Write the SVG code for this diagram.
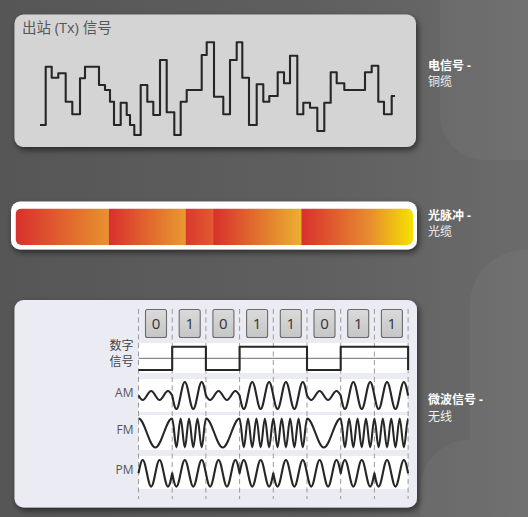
<svg xmlns="http://www.w3.org/2000/svg" width="528" height="517" viewBox="0 0 528 517">
<defs>
<linearGradient id="bg" x1="0" y1="0" x2="1" y2="0">
<stop offset="0" stop-color="#565656"/><stop offset="0.6" stop-color="#5f5f5f"/><stop offset="1" stop-color="#6b6b6b"/>
</linearGradient>
<linearGradient id="g1" x1="0" y1="0" x2="1" y2="0"><stop offset="0" stop-color="#d8302d"/><stop offset="1" stop-color="#e8922f"/></linearGradient>
<linearGradient id="g2" x1="0" y1="0" x2="1" y2="0"><stop offset="0" stop-color="#d8302d"/><stop offset="1" stop-color="#e99a30"/></linearGradient>
<linearGradient id="g3" x1="0" y1="0" x2="1" y2="0"><stop offset="0" stop-color="#d9382e"/><stop offset="1" stop-color="#e25a30"/></linearGradient>
<linearGradient id="g4" x1="0" y1="0" x2="1" y2="0"><stop offset="0" stop-color="#d8302d"/><stop offset="1" stop-color="#ebb030"/></linearGradient>
<linearGradient id="g5" x1="0" y1="0" x2="1" y2="0"><stop offset="0" stop-color="#d8302d"/><stop offset="0.6" stop-color="#e78a30"/><stop offset="1" stop-color="#f5e200"/></linearGradient>
<linearGradient id="bitg" x1="0" y1="0" x2="0" y2="1"><stop offset="0" stop-color="#dadada"/><stop offset="1" stop-color="#c6c6c6"/></linearGradient>
<filter id="sh" x="-10%" y="-10%" width="120%" height="130%"><feDropShadow dx="2" dy="3" stdDeviation="3" flood-color="#000" flood-opacity="0.55"/></filter>
<clipPath id="lc"><rect x="15.5" y="208.5" width="397.5" height="36.5" rx="6"/></clipPath>
<style>
.lbl1{font-family:"Open Sans","Noto Sans CJK SC",sans-serif;font-size:12px;font-weight:bold;fill:#fff}
.lbl2{font-family:"Open Sans","Noto Sans CJK SC",sans-serif;font-size:12px;fill:#f0f0f0}
.gl{font-family:"Open Sans","Noto Sans CJK SC",sans-serif;font-size:12px;fill:#555;text-anchor:end}
.cj{font-family:"Noto Sans CJK SC",sans-serif;font-size:12px;fill:#444;text-anchor:end}
.bit{fill:url(#bitg);stroke:#6a6a6a;stroke-width:1.1}
.dg{font-family:"Open Sans",sans-serif;font-size:15px;fill:#333;text-anchor:middle}
.wave{fill:none;stroke:#262626;stroke-width:2.1;stroke-linejoin:round}
.dash{stroke:#9a9a9a;stroke-width:1;stroke-dasharray:5 3.5}
.band{fill:#fff}
</style>
</defs>
<rect width="528" height="517" fill="url(#bg)"/>
<g fill="#fff" opacity="0.035">
<rect x="440" y="-40" width="130" height="200" rx="45"/>
<rect x="470" y="250" width="110" height="300" rx="55"/>
<rect x="420" y="440" width="140" height="120" rx="50"/>
</g>

<g id="copper">
<rect x="14.5" y="14.5" width="401.5" height="132.5" rx="9" fill="#d4d4d4" filter="url(#sh)"/>
<text x="22" y="32.5" font-family="Open Sans, Noto Sans CJK SC, sans-serif" font-size="14.5" fill="#575757">出站 (Tx) 信号</text>
<path class="wave" stroke-width="2.4" d="M40,125 H45.7 V66.7 H51.7 V77.7 H58.3 V73.3 H65.7 V101.7 H72.3 V114.3 H80 V78.3 H85 V66.7 H99 V85 H105 V90 H110 V101.7 H114 V125 H120.7 V102.7 H126.7 V115 H130 V125 H134.3 V135 H140.7 V85 H147.3 V101.7 H153.3 V115 H160 V60 H166.7 V112.3 H174.3 V135 H180.7 V101.7 H186.7 V90 H201.7 V55 H206.7 V42.3 H214 V96.7 H223.3 V114.3 H230 V60 H236.7 V42.3 H242.3 V77.7 H249 V125 H256.7 V84.3 H263.3 V101.7 H269.3 V96 H277.7 V72.3 H284 V83.3 H290 V55.7 H297.3 V114.3 H303.3 V102.7 H310 V107.7 H317.3 V131 H324.3 V102.7 H330.7 V72.3 H336.7 V83.3 H344.3 V90 H365 V72.3 H371.7 V65.7 H378.3 V101.7 H384 V114.3 H391.7 V96 H395"/>
</g>
<g id="copper-label">
<text class="lbl1" x="428" y="69.5">电信号 -</text>
<text class="lbl2" x="428" y="86">铜缆</text>
</g>

<g id="fiber">
<rect x="11" y="201.5" width="406" height="48" rx="9" fill="#fff" filter="url(#sh)"/>
<g clip-path="url(#lc)">
<rect x="15.5" y="208.5" width="93.4" height="36.5" fill="url(#g1)"/>
<rect x="108.8" y="208.5" width="76.8" height="36.5" fill="url(#g2)"/>
<rect x="185.5" y="208.5" width="27.7" height="36.5" fill="url(#g3)"/>
<rect x="213.1" y="208.5" width="88.3" height="36.5" fill="url(#g4)"/>
<rect x="301.3" y="208.5" width="111.7" height="36.5" fill="url(#g5)"/>
</g>
</g>
<g id="fiber-label">
<text class="lbl1" x="428" y="219.5">光脉冲 -</text>
<text class="lbl2" x="428" y="236">光缆</text>
</g>

<g id="wireless">
<rect x="14.5" y="300" width="402.5" height="207.5" rx="9" fill="#ebebf3" filter="url(#sh)"/>
<rect class="band" x="138.5" y="343" width="269.6" height="30"/>
<rect class="band" x="138.5" y="379" width="269.6" height="33"/>
<rect class="band" x="138.5" y="415" width="269.6" height="35"/>
<rect class="band" x="138.5" y="456" width="269.6" height="33"/>
<g>
<line class="dash" x1="138.5" y1="309" x2="138.5" y2="499"/>
<line class="dash" x1="172.2" y1="309" x2="172.2" y2="499"/>
<line class="dash" x1="205.9" y1="309" x2="205.9" y2="499"/>
<line class="dash" x1="239.6" y1="309" x2="239.6" y2="499"/>
<line class="dash" x1="273.3" y1="309" x2="273.3" y2="499"/>
<line class="dash" x1="307" y1="309" x2="307" y2="499"/>
<line class="dash" x1="340.7" y1="309" x2="340.7" y2="499"/>
<line class="dash" x1="374.4" y1="309" x2="374.4" y2="499"/>
<line class="dash" x1="408.1" y1="309" x2="408.1" y2="499"/>
</g>
<g>
<rect class="bit" x="145.5" y="309.5" width="21" height="28" rx="2"/>
<rect class="bit" x="179.2" y="309.5" width="21" height="28" rx="2"/>
<rect class="bit" x="212.9" y="309.5" width="21" height="28" rx="2"/>
<rect class="bit" x="246.6" y="309.5" width="21" height="28" rx="2"/>
<rect class="bit" x="280.3" y="309.5" width="21" height="28" rx="2"/>
<rect class="bit" x="314" y="309.5" width="21" height="28" rx="2"/>
<rect class="bit" x="347.7" y="309.5" width="21" height="28" rx="2"/>
<rect class="bit" x="381.4" y="309.5" width="21" height="28" rx="2"/>
<text class="dg" x="156" y="328.5">0</text>
<text class="dg" x="189.7" y="328.5">1</text>
<text class="dg" x="223.4" y="328.5">0</text>
<text class="dg" x="257.1" y="328.5">1</text>
<text class="dg" x="290.8" y="328.5">1</text>
<text class="dg" x="324.5" y="328.5">0</text>
<text class="dg" x="358.2" y="328.5">1</text>
<text class="dg" x="391.9" y="328.5">1</text>
</g>
<text class="cj" x="133.5" y="349.5">数字</text>
<text class="cj" x="133.5" y="366">信号</text>
<text class="gl" x="133.5" y="397">AM</text>
<text class="gl" x="133.5" y="434">FM</text>
<text class="gl" x="133.5" y="473.5">PM</text>
<line x1="138.5" y1="358.3" x2="408.1" y2="358.3" stroke="#8a8a98" stroke-width="1.2"/>
<path class="wave" d="M138.5,370 H172.2 V346.7 H205.9 V370 H239.6 V346.7 H307 V370 H340.7 V346.7 H408.1 V370"/>
<path class="wave" d="M138.5,395.5
c1.408,2.363 2.69,4.5 4.2125,4.5 c1.523,0 2.804,-2.137 4.2125,-4.5 c1.408,-2.363 2.69,-4.5 4.2125,-4.5 c1.523,0 2.804,2.137 4.2125,4.5 c1.408,2.363 2.69,4.5 4.2125,4.5 c1.523,0 2.804,-2.137 4.2125,-4.5 c1.408,-2.363 2.69,-4.5 4.2125,-4.5 c1.523,0 2.804,2.137 4.2125,4.5
c1.408,7.089 2.69,13.5 4.2125,13.5 c1.523,0 2.804,-6.411 4.2125,-13.5 c1.408,-7.089 2.69,-13.5 4.2125,-13.5 c1.523,0 2.804,6.411 4.2125,13.5 c1.408,7.089 2.69,13.5 4.2125,13.5 c1.523,0 2.804,-6.411 4.2125,-13.5 c1.408,-7.089 2.69,-13.5 4.2125,-13.5 c1.523,0 2.804,6.411 4.2125,13.5
c1.408,2.363 2.69,4.5 4.2125,4.5 c1.523,0 2.804,-2.137 4.2125,-4.5 c1.408,-2.363 2.69,-4.5 4.2125,-4.5 c1.523,0 2.804,2.137 4.2125,4.5 c1.408,2.363 2.69,4.5 4.2125,4.5 c1.523,0 2.804,-2.137 4.2125,-4.5 c1.408,-2.363 2.69,-4.5 4.2125,-4.5 c1.523,0 2.804,2.137 4.2125,4.5
c1.408,7.089 2.69,13.5 4.2125,13.5 c1.523,0 2.804,-6.411 4.2125,-13.5 c1.408,-7.089 2.69,-13.5 4.2125,-13.5 c1.523,0 2.804,6.411 4.2125,13.5 c1.408,7.089 2.69,13.5 4.2125,13.5 c1.523,0 2.804,-6.411 4.2125,-13.5 c1.408,-7.089 2.69,-13.5 4.2125,-13.5 c1.523,0 2.804,6.411 4.2125,13.5
c1.408,7.089 2.69,13.5 4.2125,13.5 c1.523,0 2.804,-6.411 4.2125,-13.5 c1.408,-7.089 2.69,-13.5 4.2125,-13.5 c1.523,0 2.804,6.411 4.2125,13.5 c1.408,7.089 2.69,13.5 4.2125,13.5 c1.523,0 2.804,-6.411 4.2125,-13.5 c1.408,-7.089 2.69,-13.5 4.2125,-13.5 c1.523,0 2.804,6.411 4.2125,13.5
c1.408,2.363 2.69,4.5 4.2125,4.5 c1.523,0 2.804,-2.137 4.2125,-4.5 c1.408,-2.363 2.69,-4.5 4.2125,-4.5 c1.523,0 2.804,2.137 4.2125,4.5 c1.408,2.363 2.69,4.5 4.2125,4.5 c1.523,0 2.804,-2.137 4.2125,-4.5 c1.408,-2.363 2.69,-4.5 4.2125,-4.5 c1.523,0 2.804,2.137 4.2125,4.5
c1.408,7.089 2.69,13.5 4.2125,13.5 c1.523,0 2.804,-6.411 4.2125,-13.5 c1.408,-7.089 2.69,-13.5 4.2125,-13.5 c1.523,0 2.804,6.411 4.2125,13.5 c1.408,7.089 2.69,13.5 4.2125,13.5 c1.523,0 2.804,-6.411 4.2125,-13.5 c1.408,-7.089 2.69,-13.5 4.2125,-13.5 c1.523,0 2.804,6.411 4.2125,13.5
c1.408,7.089 2.69,13.5 4.2125,13.5 c1.523,0 2.804,-6.411 4.2125,-13.5 c1.408,-7.089 2.69,-13.5 4.2125,-13.5 c1.523,0 2.804,6.411 4.2125,13.5 c1.408,7.089 2.69,13.5 4.2125,13.5 c1.523,0 2.804,-6.411 4.2125,-13.5 c1.408,-7.089 2.69,-13.5 4.2125,-13.5 c1.523,0 2.804,6.411 4.2125,13.5"/>
<path class="wave" d="M138.5,418.5
c3.046,0 5.609,6.886 8.425,14.5 c2.816,7.614 5.379,14.5 8.425,14.5 c3.046,0 5.609,-6.886 8.425,-14.5 c2.816,-7.614 5.379,-14.5 8.425,-14.5
c0.761,0 1.402,6.886 2.10625,14.5 c0.704,7.614 1.345,14.5 2.10625,14.5 c0.761,0 1.402,-6.886 2.10625,-14.5 c0.704,-7.614 1.345,-14.5 2.10625,-14.5 c0.761,0 1.402,6.886 2.10625,14.5 c0.704,7.614 1.345,14.5 2.10625,14.5 c0.761,0 1.402,-6.886 2.10625,-14.5 c0.704,-7.614 1.345,-14.5 2.10625,-14.5 c0.761,0 1.402,6.886 2.10625,14.5 c0.704,7.614 1.345,14.5 2.10625,14.5 c0.761,0 1.402,-6.886 2.10625,-14.5 c0.704,-7.614 1.345,-14.5 2.10625,-14.5 c0.761,0 1.402,6.886 2.10625,14.5 c0.704,7.614 1.345,14.5 2.10625,14.5 c0.761,0 1.402,-6.886 2.10625,-14.5 c0.704,-7.614 1.345,-14.5 2.10625,-14.5
c3.046,0 5.609,6.886 8.425,14.5 c2.816,7.614 5.379,14.5 8.425,14.5 c3.046,0 5.609,-6.886 8.425,-14.5 c2.816,-7.614 5.379,-14.5 8.425,-14.5
c0.761,0 1.402,6.886 2.10625,14.5 c0.704,7.614 1.345,14.5 2.10625,14.5 c0.761,0 1.402,-6.886 2.10625,-14.5 c0.704,-7.614 1.345,-14.5 2.10625,-14.5 c0.761,0 1.402,6.886 2.10625,14.5 c0.704,7.614 1.345,14.5 2.10625,14.5 c0.761,0 1.402,-6.886 2.10625,-14.5 c0.704,-7.614 1.345,-14.5 2.10625,-14.5 c0.761,0 1.402,6.886 2.10625,14.5 c0.704,7.614 1.345,14.5 2.10625,14.5 c0.761,0 1.402,-6.886 2.10625,-14.5 c0.704,-7.614 1.345,-14.5 2.10625,-14.5 c0.761,0 1.402,6.886 2.10625,14.5 c0.704,7.614 1.345,14.5 2.10625,14.5 c0.761,0 1.402,-6.886 2.10625,-14.5 c0.704,-7.614 1.345,-14.5 2.10625,-14.5
c0.761,0 1.402,6.886 2.10625,14.5 c0.704,7.614 1.345,14.5 2.10625,14.5 c0.761,0 1.402,-6.886 2.10625,-14.5 c0.704,-7.614 1.345,-14.5 2.10625,-14.5 c0.761,0 1.402,6.886 2.10625,14.5 c0.704,7.614 1.345,14.5 2.10625,14.5 c0.761,0 1.402,-6.886 2.10625,-14.5 c0.704,-7.614 1.345,-14.5 2.10625,-14.5 c0.761,0 1.402,6.886 2.10625,14.5 c0.704,7.614 1.345,14.5 2.10625,14.5 c0.761,0 1.402,-6.886 2.10625,-14.5 c0.704,-7.614 1.345,-14.5 2.10625,-14.5 c0.761,0 1.402,6.886 2.10625,14.5 c0.704,7.614 1.345,14.5 2.10625,14.5 c0.761,0 1.402,-6.886 2.10625,-14.5 c0.704,-7.614 1.345,-14.5 2.10625,-14.5
c3.046,0 5.609,6.886 8.425,14.5 c2.816,7.614 5.379,14.5 8.425,14.5 c3.046,0 5.609,-6.886 8.425,-14.5 c2.816,-7.614 5.379,-14.5 8.425,-14.5
c0.761,0 1.402,6.886 2.10625,14.5 c0.704,7.614 1.345,14.5 2.10625,14.5 c0.761,0 1.402,-6.886 2.10625,-14.5 c0.704,-7.614 1.345,-14.5 2.10625,-14.5 c0.761,0 1.402,6.886 2.10625,14.5 c0.704,7.614 1.345,14.5 2.10625,14.5 c0.761,0 1.402,-6.886 2.10625,-14.5 c0.704,-7.614 1.345,-14.5 2.10625,-14.5 c0.761,0 1.402,6.886 2.10625,14.5 c0.704,7.614 1.345,14.5 2.10625,14.5 c0.761,0 1.402,-6.886 2.10625,-14.5 c0.704,-7.614 1.345,-14.5 2.10625,-14.5 c0.761,0 1.402,6.886 2.10625,14.5 c0.704,7.614 1.345,14.5 2.10625,14.5 c0.761,0 1.402,-6.886 2.10625,-14.5 c0.704,-7.614 1.345,-14.5 2.10625,-14.5
c0.761,0 1.402,6.886 2.10625,14.5 c0.704,7.614 1.345,14.5 2.10625,14.5 c0.761,0 1.402,-6.886 2.10625,-14.5 c0.704,-7.614 1.345,-14.5 2.10625,-14.5 c0.761,0 1.402,6.886 2.10625,14.5 c0.704,7.614 1.345,14.5 2.10625,14.5 c0.761,0 1.402,-6.886 2.10625,-14.5 c0.704,-7.614 1.345,-14.5 2.10625,-14.5 c0.761,0 1.402,6.886 2.10625,14.5 c0.704,7.614 1.345,14.5 2.10625,14.5 c0.761,0 1.402,-6.886 2.10625,-14.5 c0.704,-7.614 1.345,-14.5 2.10625,-14.5 c0.761,0 1.402,6.886 2.10625,14.5 c0.704,7.614 1.345,14.5 2.10625,14.5 c0.761,0 1.402,-6.886 2.10625,-14.5 c0.704,-7.614 1.345,-14.5 2.10625,-14.5"/>
<path class="wave" d="M138.5,473.3
c1.408,-6.984 2.69,-13.3 4.2125,-13.3 c1.523,0 2.804,6.316 4.2125,13.3 c1.408,6.984 2.69,13.3 4.2125,13.3 c1.523,0 2.804,-6.316 4.2125,-13.3 c1.408,-6.984 2.69,-13.3 4.2125,-13.3 c1.523,0 2.804,6.316 4.2125,13.3 c1.408,6.984 2.69,13.3 4.2125,13.3 c1.523,0 2.804,-6.316 4.2125,-13.3
c1.408,6.984 2.69,13.3 4.2125,13.3 c1.523,0 2.804,-6.316 4.2125,-13.3 c1.408,-6.984 2.69,-13.3 4.2125,-13.3 c1.523,0 2.804,6.316 4.2125,13.3 c1.408,6.984 2.69,13.3 4.2125,13.3 c1.523,0 2.804,-6.316 4.2125,-13.3 c1.408,-6.984 2.69,-13.3 4.2125,-13.3 c1.523,0 2.804,6.316 4.2125,13.3
c1.408,6.984 2.69,13.3 4.2125,13.3 c1.523,0 2.804,-6.316 4.2125,-13.3 c1.408,-6.984 2.69,-13.3 4.2125,-13.3 c1.523,0 2.804,6.316 4.2125,13.3 c1.408,6.984 2.69,13.3 4.2125,13.3 c1.523,0 2.804,-6.316 4.2125,-13.3 c1.408,-6.984 2.69,-13.3 4.2125,-13.3 c1.523,0 2.804,6.316 4.2125,13.3
c1.408,-6.984 2.69,-13.3 4.2125,-13.3 c1.523,0 2.804,6.316 4.2125,13.3 c1.408,6.984 2.69,13.3 4.2125,13.3 c1.523,0 2.804,-6.316 4.2125,-13.3 c1.408,-6.984 2.69,-13.3 4.2125,-13.3 c1.523,0 2.804,6.316 4.2125,13.3 c1.408,6.984 2.69,13.3 4.2125,13.3 c1.523,0 2.804,-6.316 4.2125,-13.3
c1.408,6.984 2.69,13.3 4.2125,13.3 c1.523,0 2.804,-6.316 4.2125,-13.3 c1.408,-6.984 2.69,-13.3 4.2125,-13.3 c1.523,0 2.804,6.316 4.2125,13.3 c1.408,6.984 2.69,13.3 4.2125,13.3 c1.523,0 2.804,-6.316 4.2125,-13.3 c1.408,-6.984 2.69,-13.3 4.2125,-13.3 c1.523,0 2.804,6.316 4.2125,13.3
c1.408,6.984 2.69,13.3 4.2125,13.3 c1.523,0 2.804,-6.316 4.2125,-13.3 c1.408,-6.984 2.69,-13.3 4.2125,-13.3 c1.523,0 2.804,6.316 4.2125,13.3 c1.408,6.984 2.69,13.3 4.2125,13.3 c1.523,0 2.804,-6.316 4.2125,-13.3 c1.408,-6.984 2.69,-13.3 4.2125,-13.3 c1.523,0 2.804,6.316 4.2125,13.3
c1.408,-6.984 2.69,-13.3 4.2125,-13.3 c1.523,0 2.804,6.316 4.2125,13.3 c1.408,6.984 2.69,13.3 4.2125,13.3 c1.523,0 2.804,-6.316 4.2125,-13.3 c1.408,-6.984 2.69,-13.3 4.2125,-13.3 c1.523,0 2.804,6.316 4.2125,13.3 c1.408,6.984 2.69,13.3 4.2125,13.3 c1.523,0 2.804,-6.316 4.2125,-13.3
c1.408,6.984 2.69,13.3 4.2125,13.3 c1.523,0 2.804,-6.316 4.2125,-13.3 c1.408,-6.984 2.69,-13.3 4.2125,-13.3 c1.523,0 2.804,6.316 4.2125,13.3 c1.408,6.984 2.69,13.3 4.2125,13.3 c1.523,0 2.804,-6.316 4.2125,-13.3 c1.408,-6.984 2.69,-13.3 4.2125,-13.3 c1.523,0 2.804,6.316 4.2125,13.3"/>
</g>
<g id="wireless-label">
<text class="lbl1" x="428" y="403.5">微波信号 -</text>
<text class="lbl2" x="428" y="420.5">无线</text>
</g>
<g id="connectors"/>
</svg>
